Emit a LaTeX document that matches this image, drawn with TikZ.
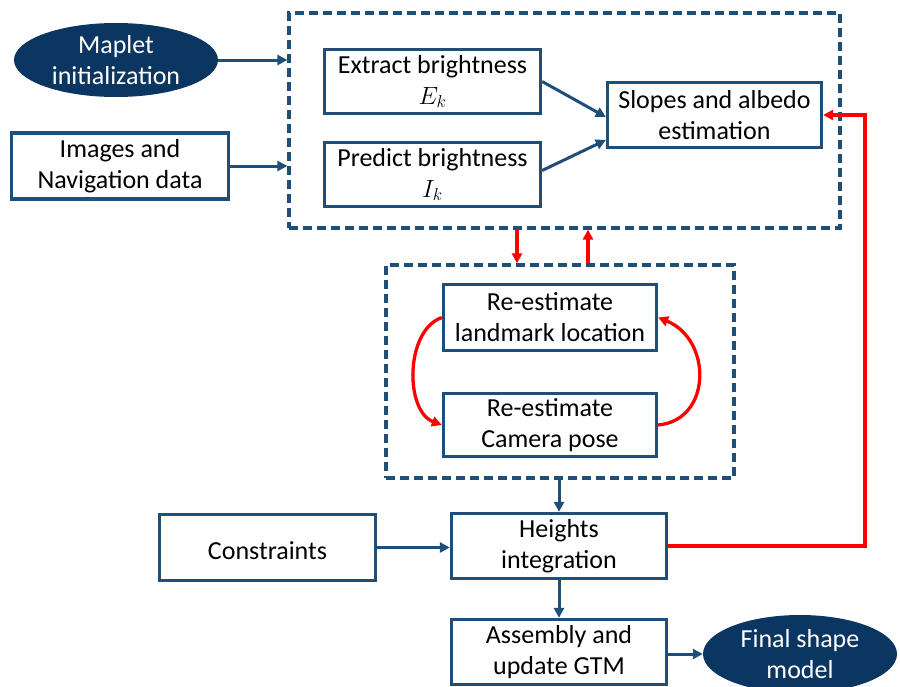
\documentclass[tikz,border=0pt]{standalone}
\usepackage{fontspec}
\setmainfont{Carlito}
\usetikzlibrary{arrows.meta,calc,shapes.geometric}
\definecolor{navy}{HTML}{1F4E79}
\definecolor{ellfill}{HTML}{0C3662}
\definecolor{fbred}{HTML}{FF0000}

\begin{document}
\begin{tikzpicture}[x=1pt,y=-1pt,
  font=\fontsize{26}{31}\selectfont,
  box/.style={draw=navy, line width=3.3pt, fill=white, align=center,
    inner sep=0pt, text=black, execute at begin node={\rule{0pt}{24pt}}},
  oval/.style={ellipse, fill=ellfill, draw=none, align=center, text=white,
    inner sep=0pt},
  group/.style={draw=navy, line width=3.2pt, dash pattern=on 9pt off 5pt,
    inner sep=0pt},
  flow/.style={draw=navy, line width=3pt,
    -{Triangle[length=10pt,width=10pt]}},
  fb/.style={draw=fbred, line width=3.3pt,
    -{Triangle[length=10pt,width=10pt]}},
  ]
\useasboundingbox (0,0) rectangle (900,686);

% dashed groupings
\node[group, minimum width=551pt, minimum height=215pt] (outer) at (564.5,120.5) {};
\node[group, minimum width=348pt, minimum height=213pt] (inner) at (560,371.5) {};

% inputs
\node[oval, minimum width=204pt, minimum height=74pt] (maplet) at (116,60)
  {Maplet\\initialization};
\node[box, minimum width=217pt, minimum height=66pt] (img) at (120,166)
  {Images and\\Navigation data};

% brightness and slopes
\node[box, minimum width=216pt, minimum height=64pt] (extract) at (432.5,81.5)
  {Extract brightness\\$E_k$};
\node[box, minimum width=216pt, minimum height=64pt] (predict) at (432.5,174.5)
  {Predict brightness\\$I_k$};
\node[box, minimum width=214pt, minimum height=65pt] (slopes) at (714.5,115)
  {Slopes and albedo\\estimation};

% re-estimation loop
\node[box, minimum width=213pt, minimum height=66pt] (lm) at (550,317.5)
  {Re-estimate\\landmark location};
\node[box, minimum width=213pt, minimum height=63pt] (cam) at (550,425)
  {Re-estimate\\Camera pose};

% integration and output
\node[box, minimum width=216pt, minimum height=66pt] (constr) at (267.5,547.5)
  {Constraints};
\node[box, minimum width=215pt, minimum height=65pt] (heights) at (559,546)
  {Heights\\integration};
\node[box, minimum width=215pt, minimum height=65pt] (assembly) at (559,652)
  {Assembly and\\update GTM};
\node[oval, minimum width=194pt, minimum height=78pt] (final) at (800,654)
  {Final shape\\model};

% helper columns
\coordinate (xdown) at (517,0);
\coordinate (xup) at (588,0);
\coordinate (xret) at (865,0);

% blue connectors
\draw[flow] (maplet.east) -- (outer.west |- maplet.east);
\draw[flow] (img.east) -- (outer.west |- img.east);
\draw[flow] (extract.east) -- ([yshift=-2pt]slopes.west);
\draw[flow] ([yshift=4pt]predict.east) -- ([yshift=-25pt]slopes.west);
\draw[flow] (inner.south -| heights.north) -- (heights.north);
\draw[flow] (constr.east) -- (heights.west |- constr.east);
\draw[flow] (heights.south) -- (assembly.north);
\draw[flow] (assembly.east |- final.west) -- (final.west);

% red connectors
\draw[fb] (outer.south -| xdown) -- (inner.north -| xdown);
\draw[fb] (inner.north -| xup) -- (outer.south -| xup);
\draw[fb] (heights.east) -| (xret |- slopes.east) -- (slopes.east);
\draw[fb] (lm.west) .. controls ($(lm.west)+(-37,13)$) and ($(cam.west)+(-37,-14)$) .. (cam.west);
\draw[fb] (cam.east) .. controls ($(cam.east)+(54,-5)$) and ($(lm.east)+(54,22)$) .. (lm.east);
\end{tikzpicture}
\end{document}
